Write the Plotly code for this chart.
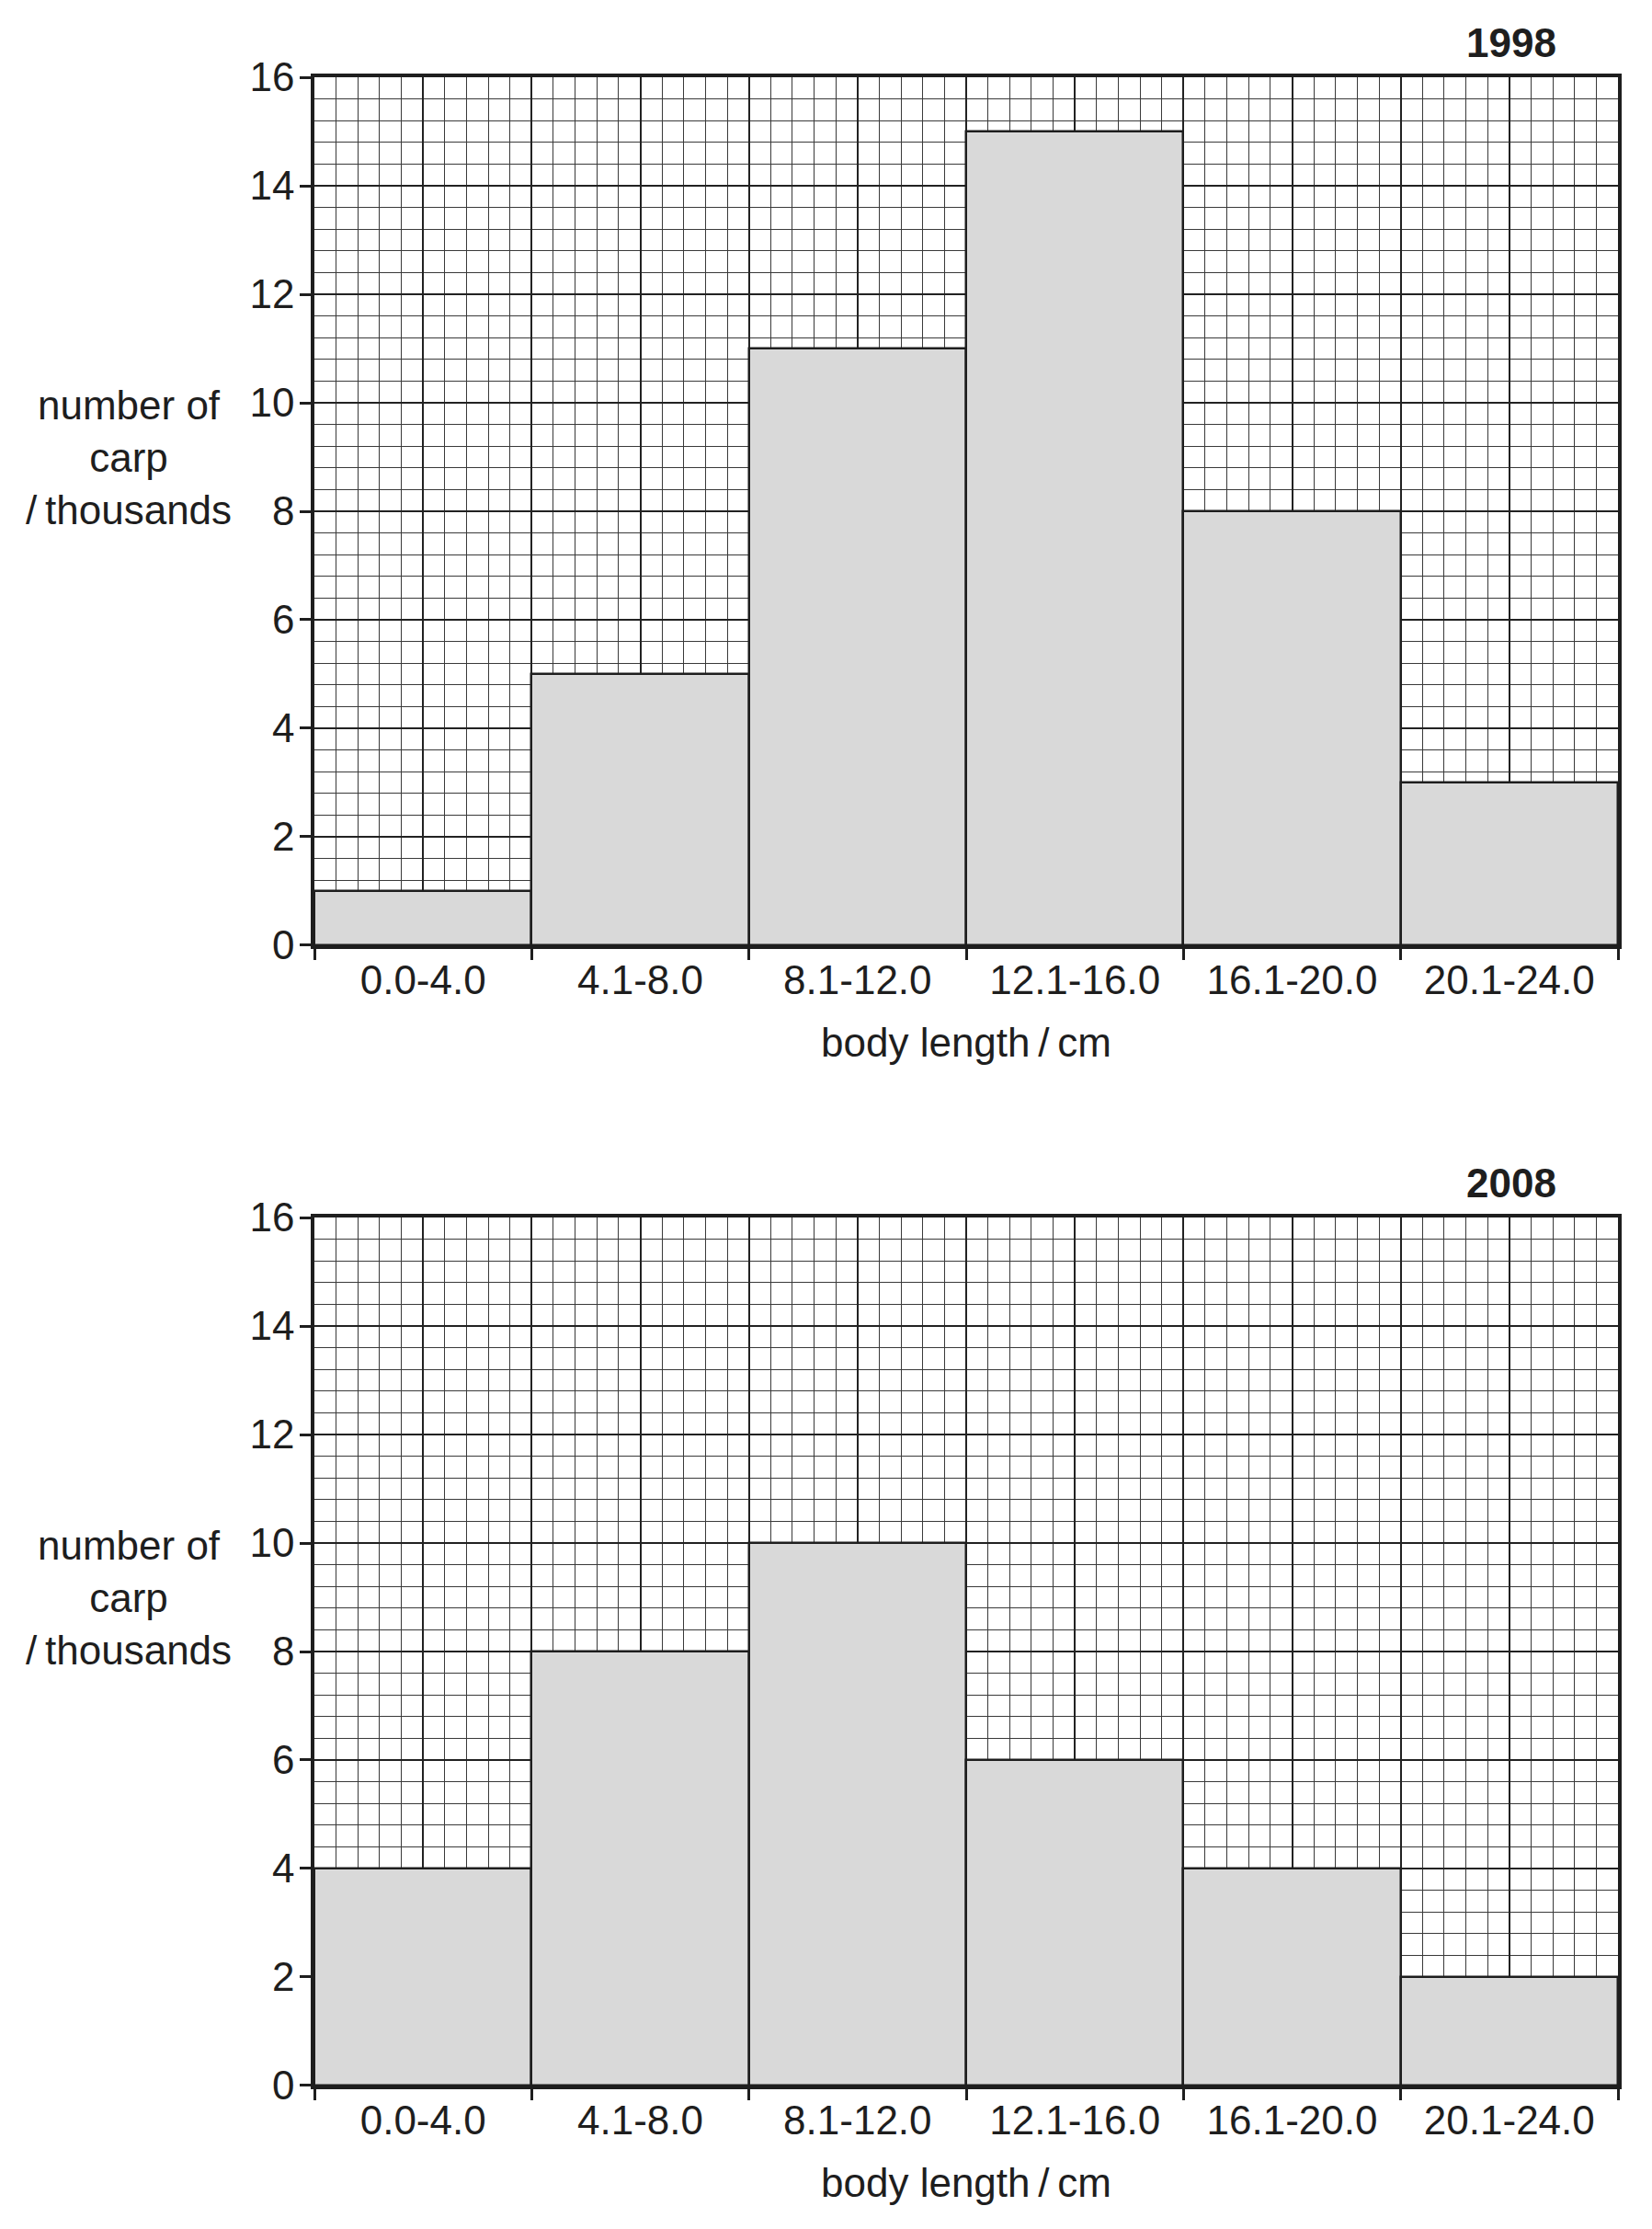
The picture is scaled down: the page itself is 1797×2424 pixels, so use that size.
import plotly.graph_objects as go

categories = ["0.0-4.0", "4.1-8.0", "8.1-12.0", "12.1-16.0", "16.1-20.0", "20.1-24.0"]
carp_1998 = [1, 5, 11, 15, 8, 3]
carp_2008 = [4, 8, 10, 6, 4, 2]
years = ["1998", "2008"]
y_ticks = [0, 2, 4, 6, 8, 10, 12, 14, 16]

FONT = "Liberation Sans, Arial, sans-serif"
INK = "#1e1e1e"
MAJOR = "#222222"
MINOR = "#3a3a3a"
FS = 44

n = len(categories)
centers = [i + 0.5 for i in range(n)]
bounds = list(range(n + 1))

fig = go.Figure()
for k, vals in enumerate([carp_1998, carp_2008]):
    xa = "x" if k == 0 else "x2"
    ya = "y" if k == 0 else "y2"
    fig.add_trace(go.Bar(
        x=centers, y=vals, width=1.0, xaxis=xa, yaxis=ya,
        marker=dict(color="#d9d9d9", line=dict(color=INK, width=2.5)),
        hoverinfo="skip", showlegend=False,
    ))
    # invisible carrier so the overlaid label axis is drawn
    fig.add_trace(go.Scatter(
        x=centers, y=vals, xaxis="x3" if k == 0 else "x4", yaxis=ya,
        mode="markers", marker=dict(opacity=0, size=1),
        hoverinfo="skip", showlegend=False,
    ))

doms = [[0.56777, 1.0], [0.0, 0.43223]]

def main_x(anchor):
    return dict(
        domain=[0, 1], anchor=anchor, range=[0, n], tickvals=bounds,
        showticklabels=False, ticks="outside", ticklen=12, tickwidth=3, tickcolor=INK,
        showline=True, linewidth=3.5, linecolor=INK, mirror=True,
        showgrid=True, gridcolor=MAJOR, gridwidth=2,
        minor=dict(dtick=0.1, tick0=0, showgrid=True, gridcolor=MINOR, gridwidth=1.1, ticks=""),
        zeroline=False, fixedrange=True,
    )

def overlay_x(over, anchor):
    return dict(
        overlaying=over, anchor=anchor, side="bottom", range=[0, n],
        tickvals=centers, ticktext=categories, ticks="",
        tickfont=dict(family=FONT, size=FS, color=INK),
        ticklabelstandoff=8,
        showgrid=True, gridcolor=MAJOR, gridwidth=2,
        showline=False, zeroline=False, fixedrange=True,
    )

def y_ax(anchor, dom):
    return dict(
        domain=dom, anchor=anchor, range=[0, 16], tickvals=y_ticks,
        ticks="outside", ticklen=12, tickwidth=3, tickcolor=INK,
        tickfont=dict(family=FONT, size=FS, color=INK),
        ticklabelstandoff=-3,
        showline=True, linewidth=3.5, linecolor=INK, mirror=True,
        showgrid=True, gridcolor=MAJOR, gridwidth=2,
        minor=dict(dtick=0.4, tick0=0, showgrid=True, gridcolor=MINOR, gridwidth=1.1, ticks=""),
        zeroline=False, fixedrange=True,
    )

fig.update_layout(
    width=1797, height=2424,
    margin=dict(l=342, r=37, t=84, b=156),
    paper_bgcolor="white", plot_bgcolor="white",
    font=dict(family=FONT, size=FS, color=INK),
    bargap=0,
    xaxis=main_x("y"),
    xaxis2=main_x("y2"),
    xaxis3=overlay_x("x", "y"),
    xaxis4=overlay_x("x2", "y2"),
    yaxis=y_ax("x", doms[0]),
    yaxis2=y_ax("x2", doms[1]),
)

for k, (yr, yd) in enumerate(zip(years, ["y domain", "y2 domain"])):
    xd = "x domain" if k == 0 else "x2 domain"
    fig.add_annotation(text="<b>" + yr + "</b>", xref=xd, yref=yd, x=0.918, y=1.040,
                       xanchor="center", yanchor="middle", showarrow=False,
                       font=dict(family=FONT, size=FS, color=INK))
    fig.add_annotation(text="number of<br>carp<br>/\u2009thousands", xref=xd, yref=yd,
                       x=-0.1423, y=0.562, xanchor="center", yanchor="middle",
                       align="center", showarrow=False,
                       font=dict(family=FONT, size=FS, color=INK))
    fig.add_annotation(text="body length\u2009/\u2009cm", xref=xd, yref=yd,
                       x=0.5, y=-0.112, xanchor="center", yanchor="middle",
                       showarrow=False, font=dict(family=FONT, size=FS, color=INK))

fig.write_html("out.html")
